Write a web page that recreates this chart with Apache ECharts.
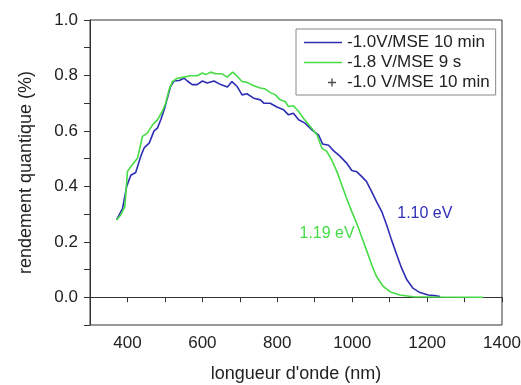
<!DOCTYPE html>
<html>
<head>
<meta charset="utf-8">
<script src="https://cdn.jsdelivr.net/npm/echarts@6/dist/echarts.min.js"></script>
<style>
  html, body { margin: 0; padding: 0; background: #fff; }
  #chart { width: 521px; height: 385px; }
</style>
</head>
<body>
<div id="chart"></div>
<script>
// courbe bleue : -1.0 V/MSE 10 min
const blueWavelength = [371, 387, 398, 409, 422, 436, 445, 458, 471, 480, 489, 498, 507, 515, 524,
  538, 551, 560, 573, 586, 600, 613, 631, 649, 667, 679, 693, 706, 719, 737, 755, 764, 781, 799,
  817, 830, 843, 857, 874, 892, 910, 921, 937, 950, 968, 985, 999, 1012, 1025, 1038, 1052, 1065,
  1079, 1092, 1105, 1119, 1132, 1146, 1163, 1181, 1203, 1220, 1235]
const blueYield = [0.279, 0.321, 0.40, 0.44, 0.45, 0.51, 0.54, 0.556, 0.60, 0.61, 0.64, 0.676, 0.72,
  0.76, 0.78, 0.782, 0.79, 0.78, 0.767, 0.767, 0.78, 0.773, 0.78, 0.767, 0.758, 0.778, 0.76, 0.73,
  0.734, 0.718, 0.712, 0.70, 0.70, 0.686, 0.676, 0.658, 0.664, 0.64, 0.628, 0.604, 0.586, 0.553,
  0.548, 0.529, 0.508, 0.484, 0.457, 0.453, 0.436, 0.418, 0.381, 0.345, 0.309, 0.261, 0.207, 0.153,
  0.105, 0.063, 0.032, 0.017, 0.008, 0.006, 0.003]

// courbe verte : -1.8 V/MSE 9 s
const greenWavelength = [371, 382, 393, 400, 413, 427, 440, 453, 467, 480, 493, 502, 511, 520, 533,
  551, 569, 586, 600, 609, 622, 635, 653, 666, 681, 693, 706, 719, 737, 755, 768, 781, 795, 808,
  821, 830, 843, 857, 870, 888, 906, 919, 932, 945, 959, 972, 985, 999, 1012, 1025, 1038, 1052,
  1065, 1083, 1101, 1127, 1163, 1216, 1350]
const greenYield = [0.279, 0.297, 0.327, 0.454, 0.478, 0.502, 0.58, 0.592, 0.622, 0.64, 0.67, 0.70,
  0.748, 0.778, 0.79, 0.794, 0.799, 0.799, 0.809, 0.803, 0.812, 0.806, 0.806, 0.794, 0.812, 0.797,
  0.778, 0.775, 0.763, 0.755, 0.751, 0.739, 0.730, 0.712, 0.706, 0.688, 0.691, 0.670, 0.646, 0.616,
  0.586, 0.538, 0.526, 0.496, 0.454, 0.406, 0.357, 0.309, 0.267, 0.219, 0.171, 0.117, 0.075, 0.039,
  0.020, 0.008, 0.002, 0.001, 0.0]

const seriesNames = ['-1.0V/MSE 10 min', '-1.8 V/MSE 9 s', '-1.0 V/MSE 10 min']

// gaps annotés [longueur d'onde, rendement]
const gapBlue = { text: '1.10 eV', coord: [1194, 0.303] }
const gapGreen = { text: '1.19 eV', coord: [933, 0.231] }

const BLUE = '#2e2eb4'
const GREEN = '#46dc46'
const FONT = 'Liberation Sans, Arial, sans-serif'

const zip = (xs, ys) => xs.map((x, i) => [x, ys[i]])

// icones de legende (zone 38 x 14)
const lineIcon = 'path://M0,6.2h38v1.6h-38z'
const plusIcon = 'path://M0,0h0.01v0.01h-0.01z M37.99,13.99h0.01v0.01h-0.01z ' +
  'M24,6.3h8v1.4h-8z M27.3,3h1.4v8h-1.4z'

function gapMark(gap, color) {
  return {
    symbol: 'circle',
    symbolSize: 0,
    silent: true,
    label: {
      show: true,
      position: 'inside',
      formatter: gap.text,
      color: color,
      fontSize: 16,
      fontFamily: FONT,
    },
    data: [{ coord: gap.coord }],
  }
}

const chart = echarts.init(document.getElementById('chart'))
chart.setOption({
  animation: false,
  grid: {
    left: 90,
    right: 19,
    top: 20,
    bottom: 60,
    outerBoundsMode: 'none',
    containLabel: false,
    show: true,
    borderColor: '#333',
    borderWidth: 1,
  },
  legend: {
    orient: 'vertical',
    left: 296,
    top: 29,
    padding: [5, 6, 4, 8],
    itemGap: 3,
    itemWidth: 38,
    itemHeight: 14,
    borderColor: '#888',
    borderWidth: 1,
    textStyle: { fontSize: 17, fontFamily: FONT, color: '#222' },
    data: [
      { name: seriesNames[0], icon: lineIcon },
      { name: seriesNames[1], icon: lineIcon },
      { name: seriesNames[2], icon: plusIcon },
    ],
  },
  xAxis: {
    type: 'value',
    min: 300,
    max: 1400,
    interval: 100,
    name: "longueur d'onde (nm)",
    nameLocation: 'middle',
    nameGap: 40,
    nameTextStyle: { fontSize: 18, fontFamily: FONT, color: '#222' },
    axisLine: { lineStyle: { color: '#333', width: 1 } },
    axisTick: { length: 5, lineStyle: { color: '#333' } },
    axisLabel: {
      fontSize: 17,
      fontFamily: FONT,
      color: '#222',
      margin: 10,
      formatter: (v) => (Math.round(v) % 200 === 0 ? String(Math.round(v)) : ''),
    },
    splitLine: { show: false },
  },
  yAxis: {
    type: 'value',
    min: -0.1,
    max: 1.0,
    interval: 0.1,
    name: 'rendement quantique (%)',
    nameLocation: 'middle',
    nameGap: 55,
    nameTextStyle: { fontSize: 18, fontFamily: FONT, color: '#222' },
    axisLine: { show: true, lineStyle: { color: '#333', width: 1 } },
    axisTick: { show: true, length: 6, lineStyle: { color: '#333' } },
    axisLabel: {
      fontSize: 17,
      fontFamily: FONT,
      color: '#222',
      margin: 12,
      formatter: (v) => {
        const k = Math.round(v * 10)
        return k >= 0 && k % 2 === 0 ? (k / 10).toFixed(1) : ''
      },
    },
    splitLine: { show: false },
  },
  series: [
    {
      name: seriesNames[0],
      type: 'line',
      data: zip(blueWavelength, blueYield),
      symbol: 'none',
      color: BLUE,
      lineStyle: { width: 1.6, color: BLUE },
      markPoint: gapMark(gapBlue, BLUE),
    },
    {
      name: seriesNames[1],
      type: 'line',
      data: zip(greenWavelength, greenYield),
      symbol: 'none',
      color: GREEN,
      lineStyle: { width: 1.6, color: GREEN },
      markPoint: gapMark(gapGreen, GREEN),
    },
    {
      name: seriesNames[2],
      type: 'scatter',
      data: [],
      color: '#222',
    },
  ],
})
</script>
</body>
</html>
